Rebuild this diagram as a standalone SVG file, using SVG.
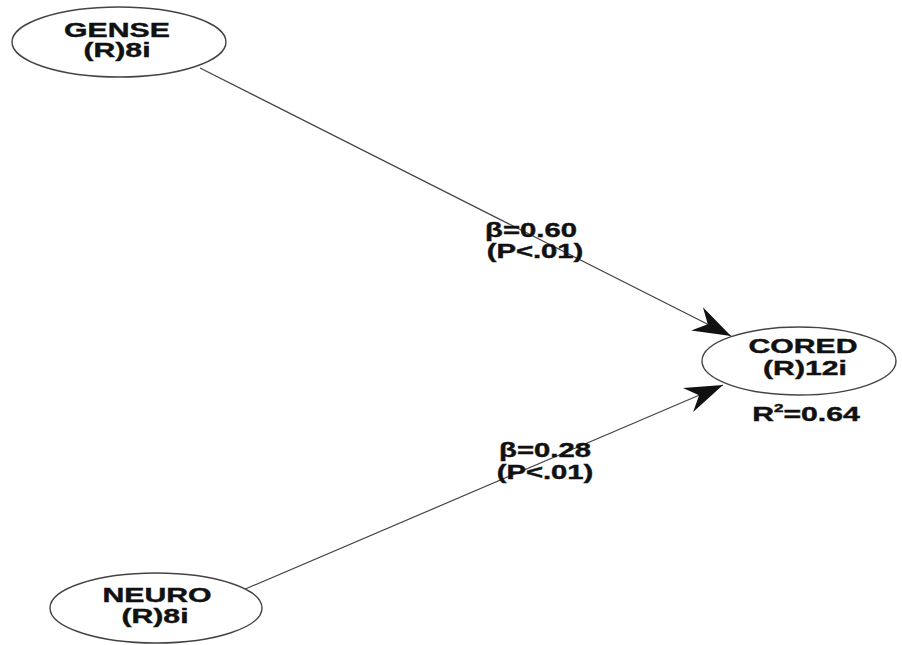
<svg xmlns="http://www.w3.org/2000/svg" width="902" height="645" viewBox="0 0 902 645">
<defs>
<style>
.node{fill:#fff;stroke:#444;stroke-width:1.4}
.t{font-family:"Liberation Sans",Arial,sans-serif;font-weight:bold;font-size:19.5px;fill:#111;stroke:#111;stroke-width:0.4;text-anchor:middle}
.edge{stroke:#444;stroke-width:1.2;fill:none}
</style>
<marker id="arr" markerUnits="userSpaceOnUse" markerWidth="50" markerHeight="40" viewBox="-40 -20 50 40" refX="0" refY="0" orient="auto">
<path d="M0,0 L-38,-13 L-26,0 L-38,13 Z" fill="#111"/>
</marker>
</defs>
<rect width="902" height="645" fill="#fff"/>
<g id="connectors">
<line class="edge" x1="200" y1="68" x2="731" y2="336" marker-end="url(#arr)"/>
<line class="edge" x1="243" y1="590" x2="723" y2="385" marker-end="url(#arr)"/>
<text class="t" transform="translate(531 0) scale(1.5 1)" x="0" y="237">β=0.60</text>
<text class="t" transform="translate(535 0) scale(1.5 1)" x="0" y="258">(P&lt;.01)</text>
<text class="t" transform="translate(545 0) scale(1.5 1)" x="0" y="457">β=0.28</text>
<text class="t" transform="translate(545 0) scale(1.5 1)" x="0" y="479">(P&lt;.01)</text>
</g>
<g id="GENSE">
<ellipse class="node" cx="119" cy="42" rx="107" ry="35"/>
<text class="t" transform="translate(117 0) scale(1.55 1)" x="0" y="37">GENSE</text>
<text class="t" transform="translate(117 0) scale(1.55 1)" x="0" y="57">(R)8i</text>
</g>
<g id="CORED">
<ellipse class="node" cx="799" cy="361" rx="97" ry="34"/>
<text class="t" transform="translate(803 0) scale(1.55 1)" x="0" y="353">CORED</text>
<text class="t" transform="translate(805 0) scale(1.55 1)" x="0" y="375">(R)12i</text>
<text class="t" transform="translate(806 0) scale(1.55 1)" x="0" y="421">R<tspan font-size="11" dy="-9">2</tspan><tspan dy="9">=0.64</tspan></text>
</g>
<g id="NEURO">
<ellipse class="node" cx="156" cy="608" rx="106" ry="35"/>
<text class="t" transform="translate(157 0) scale(1.55 1)" x="0" y="602">NEURO</text>
<text class="t" transform="translate(155 0) scale(1.55 1)" x="0" y="623">(R)8i</text>
</g>
</svg>
